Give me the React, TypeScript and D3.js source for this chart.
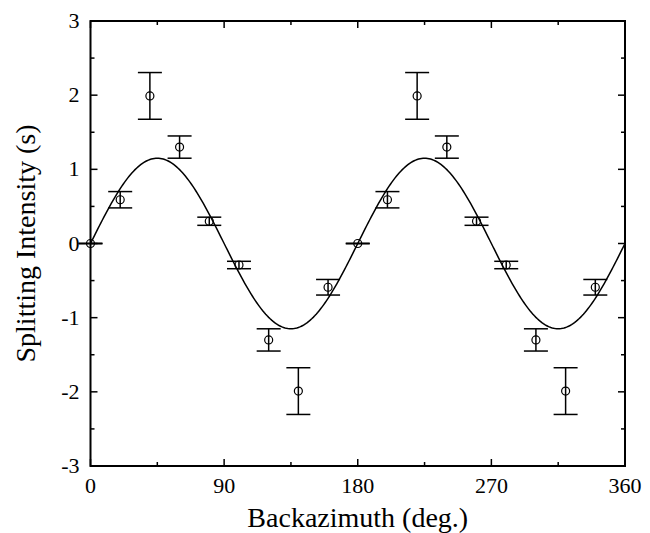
import React from "react";
import * as d3 from "d3";

const backazimuth = [0, 20, 40, 60, 80, 100, 120, 140, 160, 180, 200, 220, 240, 260, 280, 300, 320, 340];
const splitting = [0, 0.59, 1.99, 1.3, 0.3, -0.29, -1.3, -1.99, -0.59, 0, 0.59, 1.99, 1.3, 0.3, -0.29, -1.3, -1.99, -0.59];
const errors = [0.004, 0.11, 0.315, 0.15, 0.055, 0.05, 0.15, 0.315, 0.105, 0.004, 0.11, 0.315, 0.15, 0.055, 0.05, 0.15, 0.315, 0.105];
const fitAmplitude = 1.15;
const xMajorTicks = [0, 90, 180, 270, 360];
const xMinorTicks = [45, 135, 225, 315];
const yMajorTicks = [-3, -2, -1, 0, 1, 2, 3];
const yMinorTicks = [-2.5, -1.5, -0.5, 0.5, 1.5, 2.5];

export default function App() {
  const W = 650, H = 533;
  const L = 90.5, R = 625, T = 21, B = 466;
  const x = d3.scaleLinear().domain([0, 360]).range([L, R]);
  const y = d3.scaleLinear().domain([-3, 3]).range([B, T]);
  const curvePts = d3.range(0, 360.5, 1).map((d) => [d, fitAmplitude * Math.sin((2 * d * Math.PI) / 180)] as [number, number]);
  const line = d3.line<[number, number]>().x((d) => x(d[0])).y((d) => y(d[1]));
  const font = "'Liberation Serif', 'Times New Roman', serif";
  const cap = 12;
  return (
    <svg width={W} height={H} style={{ position: "absolute", left: 0, top: 0, background: "#fff" }}>
      <path d={line(curvePts) || ""} fill="none" stroke="#000" strokeWidth={1.5} />
      {backazimuth.map((b, i) => {
        const cx = x(b);
        const y1 = y(splitting[i] + errors[i]);
        const y2 = y(splitting[i] - errors[i]);
        return (
          <g key={i} stroke="#000" strokeWidth={1.5} fill="none">
            <line x1={cx} x2={cx} y1={y1} y2={y2} />
            <line x1={cx - cap} x2={cx + cap} y1={y1} y2={y1} />
            <line x1={cx - cap} x2={cx + cap} y1={y2} y2={y2} />
            <circle cx={cx} cy={y(splitting[i])} r={4} strokeWidth={1.2} />
          </g>
        );
      })}
      <g stroke="#000" strokeWidth={1.5}>
        {xMajorTicks.map((t) => (
          <g key={"xm" + t}>
            <line x1={x(t)} x2={x(t)} y1={B} y2={B - 7} />
            <line x1={x(t)} x2={x(t)} y1={T} y2={T + 7} />
          </g>
        ))}
        {xMinorTicks.map((t) => (
          <g key={"xn" + t}>
            <line x1={x(t)} x2={x(t)} y1={B} y2={B - 4} />
            <line x1={x(t)} x2={x(t)} y1={T} y2={T + 4} />
          </g>
        ))}
        {yMajorTicks.map((t) => (
          <g key={"ym" + t}>
            <line x1={L} x2={L + 7} y1={y(t)} y2={y(t)} />
            <line x1={R} x2={R - 7} y1={y(t)} y2={y(t)} />
          </g>
        ))}
        {yMinorTicks.map((t) => (
          <g key={"yn" + t}>
            <line x1={L} x2={L + 4} y1={y(t)} y2={y(t)} />
            <line x1={R} x2={R - 4} y1={y(t)} y2={y(t)} />
          </g>
        ))}
        <rect x={L} y={T} width={R - L} height={B - T} fill="none" strokeWidth={2} />
      </g>
      <g fontFamily={font} fontSize={22} fill="#000">
        {xMajorTicks.map((t) => (
          <text key={"xl" + t} x={x(t)} y={B + 27} textAnchor="middle">{t}</text>
        ))}
        {yMajorTicks.map((t) => (
          <text key={"yl" + t} x={L - 11} y={y(t) + 7} textAnchor="end">{t}</text>
        ))}
      </g>
      <text x={(L + R) / 2} y={527} textAnchor="middle" fontFamily={font} fontSize={28}>Backazimuth (deg.)</text>
      <text transform={`translate(35, ${(T + B) / 2}) rotate(-90)`} textAnchor="middle" fontFamily={font} fontSize={28}>Splitting Intensity (s)</text>
    </svg>
  );
}
